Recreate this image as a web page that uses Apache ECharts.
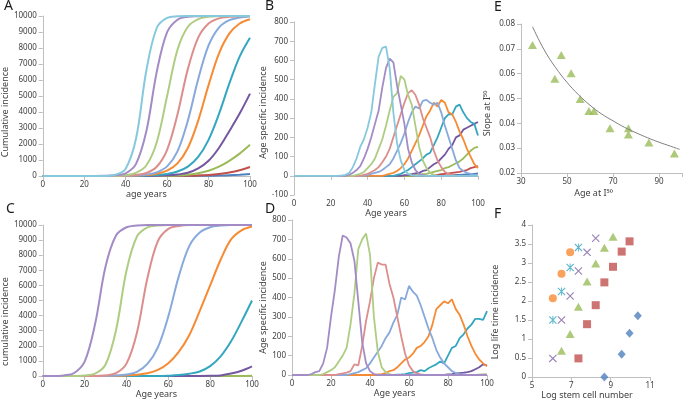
<!doctype html>
<html lang="en">
<head>
<meta charset="utf-8">
<title>Simulated cancer incidence by age</title>
<script src="https://cdn.jsdelivr.net/npm/echarts@6.0.0/dist/echarts.min.js"></script>
<style>
  html, body { margin: 0; padding: 0; background: #fff; }
  #chart { width: 685px; height: 402px; }
</style>
</head>
<body>
<div id="chart"></div>
<script>
// ---- data ----

// ages used by the cumulative panels (A, C) and the age specific panels (B, D)
var agesCum = [0,5,10,15,20,25,30,35,40,45,50,55,60,65,70,75,80,85,90,95,100];
var agesInc = [0,2,4,6,8,10,12,14,16,18,20,22,24,26,28,30,32,34,36,38,40,42,44,46,48,50,
               52,54,56,58,60,62,64,66,68,70,72,74,76,78,80,82,84,86,88,90,92,94,96,98,100];

// A: cumulative incidence
var cumA_lightCyan   = [0,0,0,0,0,0,5,75,460,2340,6610,9250,9880,9980,10000,10000,10000,10000,10000,10000,10000];
var cumA_lightPurple = [0,0,0,0,0,0,10,40,170,760,2810,6510,8990,9770,9950,9990,10000,10000,10000,10000,10000];
var cumA_lightGreen  = [0,0,0,0,0,0,5,15,50,190,670,2110,5000,7890,9330,9810,9950,9990,10000,10000,10000];
var cumA_pink        = [0,0,0,0,0,0,0,5,20,60,190,580,1640,3850,6680,8650,9530,9850,9950,9980,10000];
var cumA_lightBlue   = [0,0,0,0,0,0,0,5,15,40,90,230,600,1540,3460,6050,8160,9280,9740,9910,9970];
var cumA_orange      = [0,0,0,0,0,0,0,0,10,25,60,140,335,790,1750,3460,5680,7650,8900,9530,9800];
var cumA_teal        = [0,0,0,0,0,0,0,0,0,10,30,60,130,280,590,1190,2260,3870,5770,7460,8640];
var cumA_purple      = [0,0,0,0,0,0,0,0,0,0,5,15,40,90,200,470,950,1750,2800,3900,5150];
var cumA_green       = [0,0,0,0,0,0,0,0,0,0,0,5,10,30,80,170,330,580,950,1400,1950];
var cumA_red         = [0,0,0,0,0,0,0,0,0,0,0,0,5,10,15,35,70,130,220,360,560];
var cumA_blue        = [0,0,0,0,0,0,0,0,0,0,0,0,0,0,5,8,12,25,45,80,125];

// B: age specific incidence
var incB_lightCyan   = [0,0,0,0,0,0,0,0,0,0,0,0,0,2,5,15,45,90,150,190,250,330,480,620,665,672,560,330,170,80,30,10,3,0,0,0,0,0,0,0,0,0,0,0,0,0,0,0,0,0,0];
var incB_lightPurple = [0,0,0,0,0,0,0,0,0,0,0,0,0,0,0,5,15,30,50,90,140,200,270,340,460,560,610,590,470,370,270,140,70,30,10,3,0,0,0,0,0,0,0,0,0,0,0,0,0,0,0];
var incB_lightGreen  = [0,0,0,0,0,0,0,0,0,0,0,0,0,0,0,0,0,5,10,20,40,60,90,140,190,260,340,410,430,520,500,420,370,260,150,80,40,15,5,0,0,0,0,0,0,0,0,0,0,0,0];
var incB_pink        = [0,0,0,0,0,0,0,0,0,0,0,0,0,0,0,0,0,0,0,5,10,20,30,45,70,100,140,200,260,320,380,430,445,420,370,300,250,200,130,80,45,20,10,5,0,0,0,0,0,0,0];
var incB_lightBlue   = [0,0,0,0,0,0,0,0,0,0,0,0,0,0,0,0,0,0,0,0,5,10,15,20,30,45,60,90,130,170,220,280,330,360,350,390,395,380,370,380,330,260,200,140,80,40,25,15,10,5,3];
var incB_orange      = [0,0,0,0,0,0,0,0,0,0,0,0,0,0,0,0,0,0,0,0,0,0,0,0,0,5,10,15,25,40,60,90,130,170,210,260,310,340,380,360,395,380,330,320,280,230,190,140,100,60,40];
var incB_teal        = [0,0,0,0,0,0,0,0,0,0,0,0,0,0,0,0,0,0,0,0,0,0,0,0,0,0,0,0,5,10,20,30,45,60,75,90,110,120,160,200,250,300,320,320,360,370,330,300,280,270,210];
var incB_purple      = [0,0,0,0,0,0,0,0,0,0,0,0,0,0,0,0,0,0,0,0,0,0,0,0,0,0,0,0,0,0,3,5,8,12,15,25,30,45,60,70,90,110,140,160,200,210,240,250,260,270,280];
var incB_green       = [0,0,0,0,0,0,0,0,0,0,0,0,0,0,0,0,0,0,0,0,0,0,0,0,0,0,0,0,0,0,0,0,0,3,5,8,10,15,20,25,30,40,45,55,65,75,90,110,130,145,150];
var incB_red         = [0,0,0,0,0,0,0,0,0,0,0,0,0,0,0,0,0,0,0,0,0,0,0,0,0,0,0,0,0,0,0,0,0,0,0,0,0,0,3,5,8,10,12,15,18,20,25,30,40,45,50];
var incB_blue        = [0,0,0,0,0,0,0,0,0,0,0,0,0,0,0,0,0,0,0,0,0,0,0,0,0,0,0,0,0,0,0,0,0,0,0,0,0,0,0,0,0,0,2,3,4,5,6,7,8,10,12];

// C: cumulative incidence
var cumC_lightPurple = [0,0,40,200,950,3440,7250,9300,9850,9970,10000,10000,10000,10000,10000,10000,10000,10000,10000,10000,10000];
var cumC_lightGreen  = [0,0,0,5,30,150,760,3030,6970,9240,9850,9970,10000,10000,10000,10000,10000,10000,10000,10000,10000];
var cumC_pink        = [0,0,0,0,0,5,40,190,820,2870,6470,8930,9740,9940,10000,10000,10000,10000,10000,10000,10000];
var cumC_lightBlue   = [0,0,0,0,0,0,10,30,100,280,800,1900,3950,6600,8600,9500,9850,9960,10000,10000,10000];
var cumC_orange      = [0,0,0,0,0,0,0,10,40,90,180,400,850,1600,2700,4300,6000,7700,9050,9650,9900];
var cumC_teal        = [0,0,0,0,0,0,0,0,0,0,0,0,20,60,150,300,650,1300,2300,3600,5000];
var cumC_purple      = [0,0,0,0,0,0,0,0,0,0,0,0,0,0,0,0,10,40,160,350,640];
var cumC_green       = [0,0,0,0,0,0,0,0,0,0,0,0,0,0,0,0,0,0,0,5,10];

// D: age specific incidence
var incD_lightPurple = [0,0,0,0,0,5,15,20,60,140,300,440,610,720,710,680,590,380,170,60,20,5,0,0,0,0,0,0,0,0,0,0,0,0,0,0,0,0,0,0,0,0,0,0,0,0,0,0,0,0,0];
var incD_lightGreen  = [0,0,0,0,0,0,0,0,5,15,25,40,70,100,140,260,420,650,700,730,620,300,120,40,15,5,0,0,0,0,0,0,0,0,0,0,0,0,0,0,0,0,0,0,0,0,0,0,0,0,0];
var incD_pink        = [0,0,0,0,0,0,0,0,0,0,0,0,5,8,12,20,55,50,150,280,380,500,580,570,570,470,400,300,200,110,50,20,8,3,0,0,0,0,0,0,0,0,0,0,0,0,0,0,0,0,0];
var incD_lightBlue   = [0,0,0,0,0,0,0,0,0,0,0,0,0,0,0,5,10,15,25,35,60,90,120,150,190,220,270,310,400,390,460,430,410,360,300,240,190,130,90,60,40,20,10,5,3,0,0,0,0,0,0];
var incD_orange      = [0,0,0,0,0,0,0,0,0,0,0,0,0,0,0,0,0,0,0,0,0,0,3,5,10,20,25,40,60,80,90,110,140,150,170,200,260,340,360,380,370,390,340,310,260,200,150,110,80,60,45];
var incD_teal        = [0,0,0,0,0,0,0,0,0,0,0,0,0,0,0,0,0,0,0,0,0,0,0,0,0,0,0,2,3,5,10,12,15,25,20,35,45,55,70,60,100,140,150,190,210,240,260,290,290,285,330];
var incD_purple      = [0,0,0,0,0,0,0,0,0,0,0,0,0,0,0,0,0,0,0,0,0,0,0,0,0,0,0,0,0,0,0,0,0,0,0,0,0,0,0,0,3,5,8,10,12,15,20,30,40,55,50];
var incD_green       = [0,0,0,0,0,0,0,0,0,0,0,0,0,0,0,0,0,0,0,0,0,0,0,0,0,0,0,0,0,0,0,0,0,0,0,0,0,0,0,0,0,0,0,0,0,0,0,0,2,3,3];

// E: slope at I50 against age at I50, with the fitted curve
var slopeAge   = [35,47.5,44.7,51.8,55.7,59.5,61.7,68.7,76.7,76.7,85.6,96.7];
var slopeValue = [0.0715,0.0675,0.058,0.0602,0.0498,0.045,0.045,0.038,0.038,0.0355,0.0323,0.0279];
var fitAge     = [35,40,45,50,55,60,65,70,75,80,85,90,95,99];
var fitValue   = [0.0789,0.0697,0.0625,0.0565,0.0515,0.0473,0.0438,0.041,0.0384,0.0362,0.0342,0.0324,0.0308,0.0295];

// F: log life time incidence against log stem cell number
var fCircleX   = [6.94,6.5,6.06];
var fCircleY   = [3.28,2.72,2.07];
var fStarX     = [7.36,6.94,6.5,6.06];
var fStarY     = [3.41,2.88,2.25,1.5];
var fCrossX    = [8.24,7.8,7.36,6.94,6.5,6.06];
var fCrossY    = [3.65,3.28,2.79,2.13,1.5,0.49];
var fTriX      = [9.12,8.68,8.24,7.8,7.36,6.94,6.5];
var fTriY      = [3.69,3.4,2.99,2.51,1.85,1.13,0.69];
var fSquareX   = [9.96,9.56,9.12,8.68,8.24,7.8,7.36];
var fSquareY   = [3.57,3.3,2.9,2.49,1.89,1.39,0.49];
var fDiamondX  = [10.38,9.96,9.56,8.68];
var fDiamondY  = [1.61,1.15,0.6,0];

// ---- colours ----
var col = {
  blue: '#4F81BD', red: '#C0504D', green: '#9BBB59', purple: '#7457A0',
  teal: '#35A6C0', orange: '#F68B34', lightBlue: '#87A9DC', pink: '#DC8E8C',
  lightGreen: '#AECD82', lightPurple: '#A38CC6', lightCyan: '#86C9DD'
};

var FONT = 'Noto Sans';
var AXIS_GRAY = '#BFBFBF';
var TEXT = '#404040';

var chart = echarts.init(document.getElementById('chart'), null, { renderer: 'canvas' });

function pairs(xs, ys) {
  return xs.map(function (x, i) { return [x, ys[i]]; });
}

function lineSeries(idx, ages, vals, color, width, smooth) {
  return {
    type: 'line', xAxisIndex: idx, yAxisIndex: idx,
    data: pairs(ages, vals),
    showSymbol: false, smooth: smooth,
    lineStyle: { color: color, width: width }, itemStyle: { color: color },
    silent: true
  };
}

function plain(v) { return String(v); }

function xAx(idx, min, max, interval, name, gap, pad) {
  return {
    gridIndex: idx, type: 'value', min: min, max: max, interval: interval,
    name: name, nameLocation: 'middle', nameGap: gap,
    nameTextStyle: { fontFamily: FONT, fontSize: 9, color: TEXT, padding: pad || 0 },
    axisLine: { lineStyle: { color: AXIS_GRAY } },
    axisTick: { length: 4, lineStyle: { color: AXIS_GRAY } },
    axisLabel: { fontFamily: FONT, fontSize: 8, color: TEXT, margin: 5, formatter: plain },
    splitLine: { show: false }
  };
}

function yAx(idx, min, max, interval, name, gap, pad, fmt) {
  return {
    gridIndex: idx, type: 'value', min: min, max: max, interval: interval,
    name: name, nameLocation: 'middle', nameGap: gap,
    nameTextStyle: { fontFamily: FONT, fontSize: 9, color: TEXT, padding: pad || 0 },
    axisLine: { show: true, lineStyle: { color: AXIS_GRAY } },
    axisTick: { show: true, length: 4, lineStyle: { color: AXIS_GRAY } },
    axisLabel: { fontFamily: FONT, fontSize: 8, color: TEXT, margin: 6, formatter: fmt || plain },
    splitLine: { show: false }
  };
}

var series = [];

// A
[[cumA_blue, col.blue], [cumA_red, col.red], [cumA_green, col.green], [cumA_purple, col.purple],
 [cumA_teal, col.teal], [cumA_orange, col.orange], [cumA_lightBlue, col.lightBlue], [cumA_pink, col.pink],
 [cumA_lightGreen, col.lightGreen], [cumA_lightPurple, col.lightPurple], [cumA_lightCyan, col.lightCyan]
].forEach(function (s) { series.push(lineSeries(0, agesCum, s[0], s[1], 2, 0.35)); });

// B
[[incB_blue, col.blue], [incB_red, col.red], [incB_green, col.green], [incB_purple, col.purple],
 [incB_teal, col.teal], [incB_orange, col.orange], [incB_lightBlue, col.lightBlue], [incB_pink, col.pink],
 [incB_lightGreen, col.lightGreen], [incB_lightPurple, col.lightPurple], [incB_lightCyan, col.lightCyan]
].forEach(function (s) { series.push(lineSeries(1, agesInc, s[0], s[1], 1.8, false)); });

// C
[[cumC_green, col.green], [cumC_purple, col.purple], [cumC_teal, col.teal], [cumC_orange, col.orange],
 [cumC_lightBlue, col.lightBlue], [cumC_pink, col.pink], [cumC_lightGreen, col.lightGreen], [cumC_lightPurple, col.lightPurple]
].forEach(function (s) { series.push(lineSeries(2, agesCum, s[0], s[1], 2, 0.35)); });

// D
[[incD_green, col.green], [incD_purple, col.purple], [incD_teal, col.teal], [incD_orange, col.orange],
 [incD_lightBlue, col.lightBlue], [incD_pink, col.pink], [incD_lightGreen, col.lightGreen], [incD_lightPurple, col.lightPurple]
].forEach(function (s) { series.push(lineSeries(3, agesInc, s[0], s[1], 1.8, false)); });

// E
series.push(lineSeries(4, fitAge, fitValue, '#7F7F7F', 1, 0.4));
series.push({
  type: 'scatter', xAxisIndex: 4, yAxisIndex: 4, data: pairs(slopeAge, slopeValue),
  symbol: 'triangle', symbolSize: [9, 8], itemStyle: { color: col.green }, silent: true
});

// F
var crossPath = 'path://M0,1 L1,0 L10,9 L9,10 Z M9,0 L10,1 L1,10 L0,9 Z';
var starPath = 'path://M0,1 L1,0 L10,9 L9,10 Z M9,0 L10,1 L1,10 L0,9 Z M4.4,0 L5.6,0 L5.6,10 L4.4,10 Z';
[
  [fCircleX, fCircleY, 'circle', 8, col.orange],
  [fStarX, fStarY, starPath, 8, col.teal],
  [fCrossX, fCrossY, crossPath, 8, '#8064A2'],
  [fTriX, fTriY, 'triangle', [9, 8], col.green],
  [fSquareX, fSquareY, 'rect', 8, col.red],
  [fDiamondX, fDiamondY, 'diamond', [8, 9], col.blue]
].forEach(function (s) {
  series.push({
    type: 'scatter', xAxisIndex: 5, yAxisIndex: 5, data: pairs(s[0], s[1]),
    symbol: s[2], symbolSize: s[3], itemStyle: { color: s[4] }, silent: true
  });
});

function letter(t, x, y) {
  return { type: 'text', left: x, top: y, style: { text: t, font: '14px "Noto Sans"', fill: '#1a1a1a' } };
}

var option = {
  backgroundColor: '#fff',
  animation: false,
  grid: [
    { left: 41, top: 16, width: 209, height: 160 },
    { left: 294, top: 22, width: 184, height: 173 },
    { left: 34, top: 225, width: 218, height: 151 },
    { left: 292, top: 220, width: 195, height: 155 },
    { left: 521, top: 24, width: 162, height: 149 },
    { left: 532, top: 225, width: 118, height: 152 }
  ],
  xAxis: [
    xAx(0, 0, 100, 20, 'age years', 14),
    xAx(1, 0, 100, 20, 'Age years', 14),
    xAx(2, 0, 100, 20, 'Age years', 11, [0, 0, 0, 18]),
    xAx(3, 0, 100, 20, 'Age years', 13, [0, 0, 0, 10]),
    (function () {
      var a = xAx(4, 30, 100, 20, 'Age at I\u2075\u2070', 16, [0, 16, 0, 0]);
      a.axisLabel.formatter = function (v) { return v === 100 ? '' : String(v); };
      return a;
    })(),
    xAx(5, 5, 11, 2, 'Log stem cell number', 13, [0, 8, 0, 0])
  ],
  yAxis: [
    yAx(0, 0, 10000, 1000, 'Cumulative incidence', 29, [0, 32, 0, 0]),
    yAx(1, -100, 800, 100, 'Age specific incidence', 19, [0, 8, 0, 0]),
    yAx(2, 0, 10000, 1000, 'cumulative incidence', 23, [0, 42, 0, 0]),
    yAx(3, 0, 800, 100, 'Age specific incidence', 18, [0, 20, 0, 0]),
    yAx(4, 0.02, 0.08, 0.01, 'Slope at I\u2075\u2070', 29, [0, 30, 0, 0],
        function (v) { return v.toFixed(2); }),
    yAx(5, 0, 4, 0.5, 'Log life time incidence', 32, [0, 22, 0, 0])
  ],
  graphic: [
    letter('A', 4, -1), letter('B', 265, -1), letter('E', 494, 0),
    letter('C', 6, 202), letter('D', 265, 202), letter('F', 494, 207)
  ],
  series: series
};

chart.setOption(option);
</script>
</body>
</html>
